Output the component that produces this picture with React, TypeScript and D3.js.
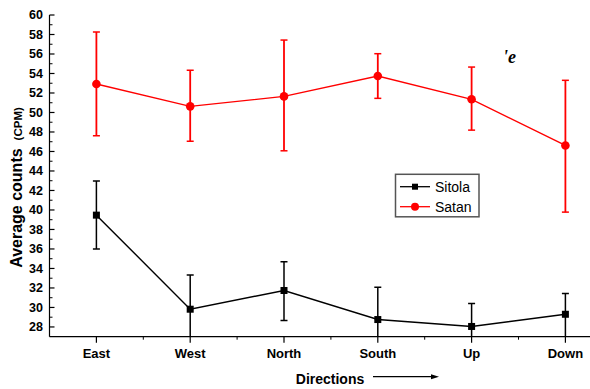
import React from "react";
import * as d3 from "d3";

const categories = ["East", "West", "North", "South", "Up", "Down"];
const sitolaMean = [39.47, 29.82, 31.74, 28.76, 28.05, 29.3];
const sitolaHigh = [42.96, 33.34, 34.69, 32.08, 30.4, 31.43];
const sitolaLow = [36.0, 26.3, 28.66, 25.44, 25.7, 27.0];
const satanMean = [52.92, 50.63, 51.65, 53.74, 51.35, 46.62];
const satanHigh = [58.25, 54.32, 57.43, 56.03, 54.66, 53.3];
const satanLow = [47.61, 47.06, 46.07, 51.45, 48.19, 39.78];
const yTicks = [28, 30, 32, 34, 36, 38, 40, 42, 44, 46, 48, 50, 52, 54, 56, 58, 60];
const yMinor = [29, 31, 33, 35, 37, 39, 41, 43, 45, 47, 49, 51, 53, 55, 57, 59];

const W = 590;
const H = 389;
const AX_X = 49.5;
const AX_Y = 336.7;

export default function App() {
  const x = d3.scaleLinear().domain([-0.5, 5.5]).range([AX_X, AX_X + 6 * 93.8]);
  const y = d3.scaleLinear().domain([27, 60]).range([AX_Y, 15]);
  const line = d3
    .line<number>()
    .x((_, i) => x(i))
    .y((d) => y(d));

  const series = [
    { name: "Sitola", mean: sitolaMean, hi: sitolaHigh, lo: sitolaLow, color: "#000000", marker: "square" },
    { name: "Satan", mean: satanMean, hi: satanHigh, lo: satanLow, color: "#ff0000", marker: "circle" },
  ];

  const font = "Arial, 'Liberation Sans', Helvetica, sans-serif";
  const cap = 3.5;

  return (
    <svg
      width={W}
      height={H}
      style={{ position: "absolute", left: 0, top: 0, display: "block", background: "#fff" }}
      fontFamily={font}
    >
      <defs>
        <clipPath id="plotClip">
          <rect x={AX_X} y={0} width={W} height={AX_Y} />
        </clipPath>
      </defs>

      {/* Y axis */}
      <line x1={AX_X} x2={AX_X} y1={y(60)} y2={AX_Y} stroke="#000" strokeWidth={1.2} />
      {yTicks.map((t) => (
        <g key={"yt" + t}>
          <line x1={AX_X} x2={AX_X + 5} y1={y(t)} y2={y(t)} stroke="#000" strokeWidth={1.2} />
          <text x={43} y={y(t)} dy="0.35em" textAnchor="end" fontSize={12.5} fontWeight="bold" fill="#000">
            {t}
          </text>
        </g>
      ))}
      {yMinor.map((t) => (
        <line key={"ym" + t} x1={AX_X} x2={AX_X + 3} y1={y(t)} y2={y(t)} stroke="#000" strokeWidth={1} />
      ))}

      {/* X axis */}
      <line x1={AX_X} x2={W} y1={AX_Y} y2={AX_Y} stroke="#000" strokeWidth={1.2} />
      {categories.map((c, i) => (
        <g key={"xt" + c}>
          <line x1={x(i)} x2={x(i)} y1={AX_Y} y2={AX_Y + 6} stroke="#000" strokeWidth={1.2} />
          <text x={x(i)} y={357.5} textAnchor="middle" fontSize={13} fontWeight="bold" fill="#000">
            {c}
          </text>
        </g>
      ))}
      {categories.map((c, i) => (
        <line key={"xm" + c} x1={x(i + 0.5)} x2={x(i + 0.5)} y1={AX_Y} y2={AX_Y + 3} stroke="#000" strokeWidth={1} />
      ))}

      {/* Axis titles */}
      <text x={330} y={384} textAnchor="middle" fontSize={14} fontWeight="bold" fill="#000">
        Directions
      </text>
      <line x1={373} x2={432} y1={376.7} y2={376.7} stroke="#000" strokeWidth={1.2} />
      <path d="M431,374.2 L439,376.7 L431,379.2 Z" fill="#000" />
      <text
        transform={`translate(22, 187.5) rotate(-90)`}
        textAnchor="middle"
        fontWeight="bold"
        fill="#000"
      >
        <tspan fontSize={16}>Average counts</tspan>
        <tspan fontSize={11.5} dx={8}>(CPM)</tspan>
      </text>

      {/* stray glyph from the source image */}
      <text x={503} y={63} fontFamily="'Liberation Serif', 'DejaVu Serif', serif" fontStyle="italic" fontWeight="bold" fontSize={18} fill="#000">
        'e
      </text>

      {/* Series */}
      {series.map((s) => (
        <g key={s.name}>
          <g clipPath="url(#plotClip)">
            {s.mean.map((m, i) => (
              <g key={i}>
                <line x1={x(i)} x2={x(i)} y1={y(s.hi[i])} y2={y(s.lo[i])} stroke={s.color} strokeWidth={s.name === "Satan" ? 1.8 : 1.5} />
                <line x1={x(i) - cap} x2={x(i) + cap} y1={y(s.hi[i])} y2={y(s.hi[i])} stroke={s.color} strokeWidth={1.5} />
                <line x1={x(i) - cap} x2={x(i) + cap} y1={y(s.lo[i])} y2={y(s.lo[i])} stroke={s.color} strokeWidth={1.5} />
              </g>
            ))}
          </g>
          <path d={line(s.mean) || ""} fill="none" stroke={s.color} strokeWidth={1.4} />
          {s.mean.map((m, i) =>
            s.marker === "square" ? (
              <rect key={"m" + i} x={x(i) - 3.5} y={y(m) - 3.5} width={7} height={7} fill={s.color} />
            ) : (
              <circle key={"m" + i} cx={x(i)} cy={y(m)} r={4.3} fill={s.color} />
            )
          )}
        </g>
      ))}

      {/* Legend */}
      <rect x={395.5} y={174.3} width={83.5} height={42.5} fill="#fff" stroke="#555" strokeWidth={1.5} />
      {series.map((s, k) => {
        const ly = 186.7 + k * 20;
        return (
          <g key={"lg" + s.name}>
            <line x1={400} x2={430} y1={ly} y2={ly} stroke={s.color} strokeWidth={1.3} />
            {s.marker === "square" ? (
              <rect x={415 - 3} y={ly - 3} width={6} height={6} fill={s.color} />
            ) : (
              <circle cx={415} cy={ly} r={4} fill={s.color} />
            )}
            <text x={435} y={ly} dy="0.36em" fontSize={14} fill="#000">
              {s.name}
            </text>
          </g>
        );
      })}
    </svg>
  );
}
